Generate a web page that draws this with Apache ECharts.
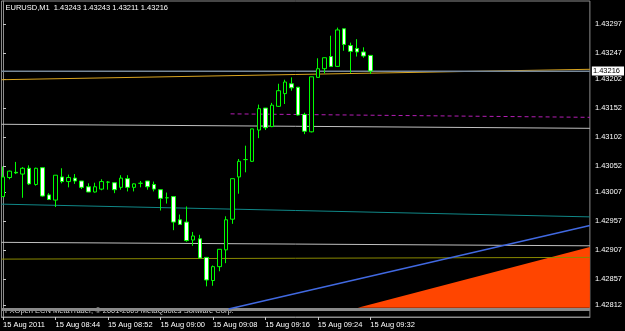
<!DOCTYPE html>
<html><head><meta charset="utf-8">
<script src="https://cdn.jsdelivr.net/npm/echarts@6/dist/echarts.min.js"></script>
<style>html,body{margin:0;padding:0;background:#000;}#c{width:625px;height:331px;}</style>
</head><body><div id="c"></div>
<script>
const headerText = 'EURUSD,M1  1.43243 1.43243 1.43211 1.43216';
const copyrightText = 'FXOpen ECN MetaTrader, \u00a9 2001-2009 MetaQuotes Software Corp.';
const times = ['08:36','08:37','08:38','08:39','08:40','08:41','08:42','08:43','08:44','08:45','08:46','08:47','08:48','08:49','08:50','08:51','08:52','08:53','08:54','08:55','08:56','08:57','08:58','08:59','09:00','09:01','09:02','09:03','09:04','09:05','09:06','09:07','09:08','09:09','09:10','09:11','09:12','09:13','09:14','09:15','09:16','09:17','09:18','09:19','09:20','09:21','09:22','09:23','09:24','09:25','09:26','09:27','09:28','09:29','09:30','09:31','09:32'];
const opens = [1.42999,1.43032,1.43041,1.43038,1.43048,1.43020,1.43049,1.43002,1.42993,1.43033,1.43025,1.43031,1.43026,1.43016,1.43007,1.43012,1.43024,1.43023,1.43015,1.43030,1.43015,1.43022,1.43026,1.43020,1.43011,1.42997,1.42999,1.42959,1.42955,1.42924,1.42926,1.42894,1.42854,1.42878,1.42907,1.42960,1.43033,1.43063,1.43060,1.43114,1.43152,1.43120,1.43155,1.43177,1.43194,1.43188,1.43141,1.43111,1.43205,1.43220,1.43241,1.43224,1.43289,1.43260,1.43255,1.43249,1.43243];
const closes = [1.43033,1.43043,1.43040,1.43048,1.43021,1.43048,1.43000,1.42994,1.43036,1.43025,1.43032,1.43026,1.43015,1.43007,1.43016,1.43025,1.43024,1.43011,1.43031,1.43015,1.43021,1.43022,1.43016,1.43012,1.42996,1.42997,1.42955,1.42951,1.42923,1.42931,1.42893,1.42855,1.42878,1.42908,1.42959,1.43030,1.43060,1.43063,1.43116,1.43151,1.43118,1.43157,1.43182,1.43197,1.43187,1.43140,1.43112,1.43206,1.43220,1.43239,1.43224,1.43287,1.43262,1.43250,1.43249,1.43242,1.43216];
const lows = [1.42999,1.43029,1.43038,1.42997,1.43019,1.43018,1.42999,1.42993,1.42981,1.43022,1.43015,1.43021,1.43012,1.43007,1.43006,1.43010,1.43011,1.43005,1.43011,1.43008,1.43008,1.43015,1.43011,1.43008,1.42975,1.42987,1.42941,1.42951,1.42921,1.42914,1.42892,1.42844,1.42845,1.42870,1.42884,1.42952,1.43004,1.43041,1.43059,1.43100,1.43114,1.43119,1.43154,1.43159,1.43182,1.43139,1.43107,1.43110,1.43205,1.43212,1.43223,1.43223,1.43251,1.43213,1.43241,1.43239,1.43211];
const highs = [1.43051,1.43044,1.43059,1.43050,1.43053,1.43049,1.43049,1.43005,1.43036,1.43048,1.43037,1.43038,1.43026,1.43022,1.43023,1.43029,1.43026,1.43023,1.43036,1.43036,1.43022,1.43026,1.43026,1.43025,1.43011,1.43006,1.42999,1.42968,1.42982,1.42938,1.42933,1.42894,1.42880,1.42908,1.42965,1.43030,1.43064,1.43087,1.43116,1.43158,1.43152,1.43161,1.43194,1.43201,1.43205,1.43188,1.43144,1.43206,1.43238,1.43239,1.43277,1.43291,1.43289,1.43265,1.43271,1.43257,1.43243];
const xTickIdx = [0,8,16,24,32,40,48,56];
const xTickLabels = ['15 Aug 2011','15 Aug 08:44','15 Aug 08:52','15 Aug 09:00','15 Aug 09:08','15 Aug 09:16','15 Aug 09:24','15 Aug 09:32'];
const yTickValues = [1.43297,1.43247,1.43202,1.43152,1.43102,1.43052,1.43007,1.42957,1.42907,1.42857,1.42812];
// chart objects: [bar index, price]
const goldLine = [[-0.23,1.43201],[89.48,1.43219]];
const silverLineHigh = [[-0.23,1.43124],[89.48,1.43117]];
const magentaLine = [[34.7,1.43142],[89.48,1.43136]];
const tealLine = [[-0.23,1.42986],[89.48,1.42964]];
const silverLineLow = [[-0.23,1.42920],[89.48,1.42914]];
const oliveLine = [[-0.23,1.42891],[89.48,1.42894]];
const grayLine = [[-0.23,1.42804],[89.48,1.42804]];
const blueLine = [[34.4,1.42805],[89.48,1.42949]];
const triangle = [[54.1,1.42807],[89.48,1.42912],[89.48,1.42807]];

const FONT = 'Liberation Sans';
const FS = 7.5;
const X_MIN = -0.23, X_MAX = 89.48;
const candleData = opens.map((o,i)=>[i,o,closes[i],lows[i],highs[i]]);
const lastClose = closes[closes.length-1];
const bidLine = [[X_MIN,lastClose],[X_MAX,lastClose]];

function lineSeries(name, data, color, z, extra){
  return Object.assign({
    name, type:'line', data, z, symbol:'none', silent:true, animation:false,
    lineStyle:{color, width:1}, emphasis:{disabled:true}, clip:true
  }, extra||{});
}

const chart = echarts.init(document.getElementById('c'), null, {renderer:'canvas'});
chart.setOption({
  backgroundColor:'#000',
  animation:false,
  grid:{left:1, top:1, right:31, bottom:14, show:true, borderColor:'#8c8c8c', borderWidth:1, backgroundColor:'transparent'},
  graphic:[
    {type:'text', left:5.5, top:3.5, z:10, style:{text:headerText, fill:'#ffffff', font:FS+'px "'+FONT+'"'}},
    {type:'text', left:5, top:306.5, z:1, style:{text:copyrightText, fill:'#d8d8d8', font:FS+'px "'+FONT+'"'}}
  ],
  xAxis:{
    type:'value', min:X_MIN, max:X_MAX,
    splitLine:{show:false},
    axisLine:{show:true, lineStyle:{color:'#8c8c8c'}},
    axisTick:{show:true, length:3, customValues:xTickIdx, lineStyle:{color:'#c8c8c8'}},
    axisLabel:{customValues:xTickIdx, color:'#ffffff', fontSize:FS, fontFamily:FONT, align:'left', margin:4,
      formatter:(v)=>{const k=xTickIdx.indexOf(Math.round(v)); return k>=0?xTickLabels[k]:'';}}
  },
  yAxis:{
    type:'value', position:'right', min:1.42791, max:1.43337, scale:true,
    splitLine:{show:false},
    axisLine:{show:true, lineStyle:{color:'#8c8c8c'}},
    axisTick:{show:true, length:3, customValues:yTickValues, lineStyle:{color:'#c8c8c8'}},
    axisLabel:{customValues:yTickValues, color:'#ffffff', fontSize:FS, fontFamily:FONT, margin:5,
      formatter:(v)=>v.toFixed(5)}
  },
  series:[
    {
      type:'custom', z:1, silent:true, animation:false,
      data:[triangle.flat()],
      dimensions:['x1','y1','x2','y2','x3','y3'],
      encode:{x:[0,2,4], y:[1,3,5]},
      renderItem:(params, api)=>{
        const pts=[0,1,2].map(k=>api.coord([api.value(2*k), api.value(2*k+1)]));
        return {type:'polygon', shape:{points:pts}, style:{fill:'#FF4500'}};
      }
    },
    lineSeries('gold', goldLine, '#DAA520', 3),
    lineSeries('silverHigh', silverLineHigh, '#C0C0C0', 3),
    lineSeries('magenta', magentaLine, '#B41EB4', 3, {lineStyle:{color:'#B41EB4', width:1, type:[4,3]}}),
    lineSeries('teal', tealLine, '#108888', 3),
    lineSeries('silverLow', silverLineLow, '#C0C0C0', 3),
    lineSeries('olive', oliveLine, '#8A8A00', 3),
    lineSeries('gray', grayLine, '#8a8a8a', 3, {lineStyle:{color:'#8a8a8a', width:3}}),
    lineSeries('blue', blueLine, '#4169E1', 4, {lineStyle:{color:'#4169E1', width:1.5}}),
    lineSeries('bid', bidLine, '#778899', 4, {
      markLine:{
        symbol:'none', silent:true, animation:false, precision:5,
        data:[{yAxis:lastClose}],
        lineStyle:{color:'#778899', type:'solid', width:1},
        label:{show:true, position:'end', distance:2, formatter:()=>lastClose.toFixed(5), backgroundColor:'#ffffff', color:'#000000',
          padding:[1,4,0,1], fontSize:FS, fontFamily:FONT}
      }
    }),
    {
      type:'candlestick', z:5, silent:true, animation:false,
      data:candleData,
      encode:{x:0, y:[1,2,3,4]},
      barWidth:4,
      itemStyle:{color:'#000000', color0:'#ffffff', borderColor:'#00ff00', borderColor0:'#00ff00', borderColorDoji:'#00ff00', borderWidth:1}
    }
  ]
});
</script></body></html>
